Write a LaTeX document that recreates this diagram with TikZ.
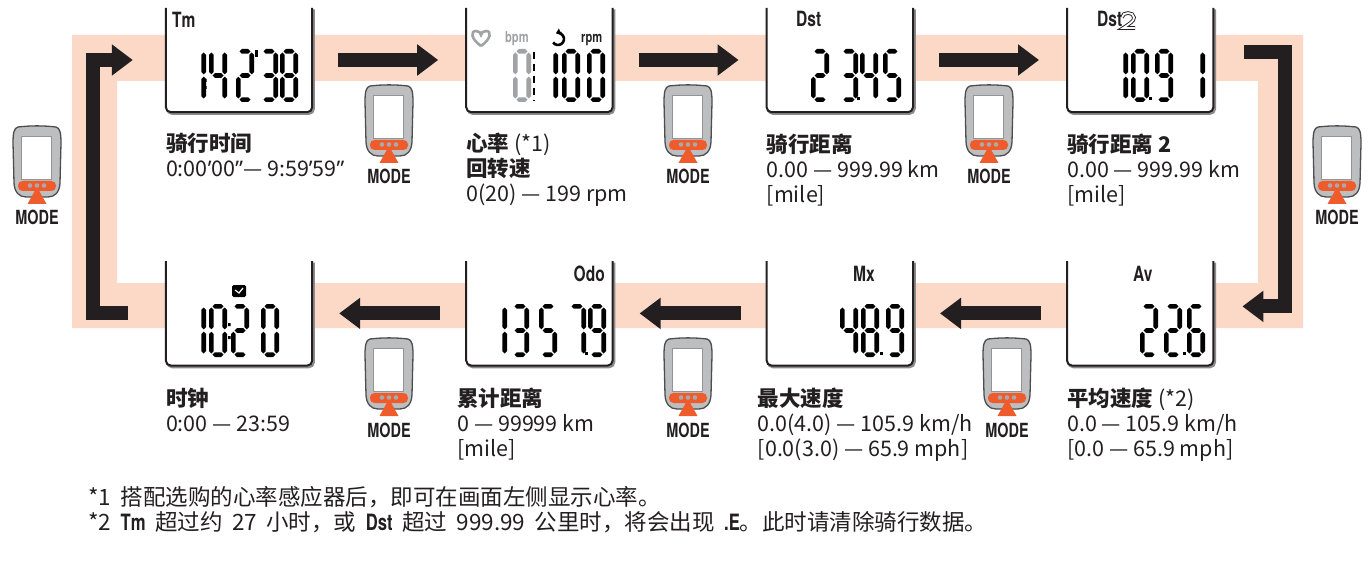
\documentclass[tikz,border=0pt]{standalone}
\usepackage{fontspec}
\setmainfont{Noto Sans CJK SC}
\newfontfamily\lcdsans{TeX Gyre Heros}
\newfontfamily\latinsans{Noto Sans}
\usetikzlibrary{positioning}
\usetikzlibrary{arrows.meta}

\definecolor{bandpeach}{HTML}{FCD9C6}
\definecolor{inkblack}{HTML}{231F20}
\definecolor{keyorange}{HTML}{EF5B2B}
\definecolor{keygrey}{HTML}{BCBEC0}
\definecolor{keyedge}{HTML}{4D4D4F}
\definecolor{dotgrey}{HTML}{A7A9AC}
\definecolor{lcdgrey}{HTML}{A0A2A5}

% condensed bold labels (Tm, Dst, MODE ...)
\newcommand\lcdlabel[2][20]{{\lcdsans\bfseries\fontsize{#1}{#1}\selectfont\scalebox{0.74}[1]{#2}}}
\newcommand\modetitle[1]{{\bfseries #1}}
\newcommand\minmark{{\latinsans ’}}
\newcommand\secmark{{\latinsans ”}}
\newcommand\fnsp{\hspace{0.42em}}

% seven segment digits, 18 x 53
\newcommand\segw{2.3}
\newcommand\seggap{1.2}
\newcommand\hseg[3]{\fill ({#1+\seggap},#3) -- ({#1+\seggap+\segw},{#3-\segw}) -- ({#2-\seggap-\segw},{#3-\segw}) -- ({#2-\seggap},#3) -- ({#2-\seggap-\segw},{#3+\segw}) -- ({#1+\seggap+\segw},{#3+\segw}) -- cycle;}
\newcommand\vseg[3]{\fill (#1,{#2+\seggap}) -- ({#1+\segw},{#2+\seggap+\segw}) -- ({#1+\segw},{#3-\seggap-\segw}) -- (#1,{#3-\seggap}) -- ({#1-\segw},{#3-\seggap-\segw}) -- ({#1-\segw},{#2+\seggap+\segw}) -- cycle;}
\newcommand\lcdsega{\hseg{2.3}{15.7}{2.3}}
\newcommand\lcdsegb{\vseg{15.7}{2.3}{26.5}}
\newcommand\lcdsegc{\vseg{15.7}{26.5}{50.7}}
\newcommand\lcdsegd{\hseg{2.3}{15.7}{50.7}}
\newcommand\lcdsege{\vseg{2.3}{26.5}{50.7}}
\newcommand\lcdsegf{\vseg{2.3}{2.3}{26.5}}
\newcommand\lcdsegg{\hseg{2.3}{15.7}{26.5}}
\newcommand\lcddigit[1]{%
  \ifcase#1\relax
    \lcdsega\lcdsegb\lcdsegc\lcdsegd\lcdsege\lcdsegf
  \or \lcdsegb\lcdsegc
  \or \lcdsega\lcdsegb\lcdsegg\lcdsege\lcdsegd
  \or \lcdsega\lcdsegb\lcdsegg\lcdsegc\lcdsegd
  \or \lcdsegf\lcdsegg\lcdsegb\lcdsegc
  \or \lcdsega\lcdsegf\lcdsegg\lcdsegc\lcdsegd
  \or \lcdsega\lcdsegf\lcdsegg\lcdsege\lcdsegc\lcdsegd
  \or \lcdsega\lcdsegb\lcdsegc
  \or \lcdsega\lcdsegb\lcdsegc\lcdsegd\lcdsege\lcdsegf\lcdsegg
  \or \lcdsega\lcdsegb\lcdsegc\lcdsegd\lcdsegf\lcdsegg
  \fi}

\tikzset{
  lcd/.pic={\lcddigit{#1}},
  modekey/.pic={
    \filldraw[keybody] (-19,0) .. controls (-6,-1.5) and (6,-1.5) .. (19,0)
      .. controls (23,1) and (24,6) .. (24,16) -- (23,56)
      .. controls (22.5,65) and (18,70) .. (11,70) -- (-11,70)
      .. controls (-18,70) and (-22.5,65) .. (-23,56) -- (-24,16)
      .. controls (-24,6) and (-23,1) .. (-19,0) -- cycle;
    \filldraw[fill=white, draw=keyedge!60, line width=0.6pt] (-15.5,9) rectangle (14.5,52);
    \fill[keyorange, rounded corners=4.5pt] (-19,54) rectangle (19,64);
    \fill[keyorange] (0,60) -- (9.5,77) -- (-9.5,77) -- cycle;
    \foreach \d in {-7,0,7} \fill[dotgrey] (\d,58.5) circle[radius=2.3pt];
    \node[modetext] (-txt) at (0,98) {\lcdlabel[19.5]{MODE}};
  }
}

\begin{document}
\begin{tikzpicture}[x=1pt, y=-1pt,
    screen/.style={minimum width=146pt, minimum height=104pt, inner sep=0pt},
    lcdframe/.style={draw=inkblack, fill=white, line width=2pt, rounded corners=5pt},
    lcdshadow/.style={draw=black!45, line width=2.5pt, rounded corners=5pt},
    flow/.style={draw=inkblack, line width=14pt, line join=miter, -{Triangle[length=21pt,width=30pt]}},
    keybody/.style={fill=keygrey, draw=keyedge, line width=1.3pt},
    modetext/.style={anchor=base, inner sep=0pt, text=inkblack},
    info/.style={align=left, inner sep=0pt, text=inkblack, font=\fontsize{21.5}{25}\selectfont},
    note/.style={inner sep=0pt, text=inkblack, font=\fontsize{22.5}{25}\selectfont},
    tag/.style={inner sep=0pt, text=inkblack}
    ]
    \useasboundingbox (0,0) rectangle (1370,564);

    % loop band
    \fill[bandpeach, even odd rule] (72,35) rectangle (1303,328) (117,81) rectangle (1258,283);

    \node[screen] (tm) at (239,60) {};
    \node[screen, right=154pt of tm] (hr) {};
    \node[screen, right=154pt of hr] (dst) {};
    \node[screen, right=154pt of dst] (dsttwo) {};
    \node[screen, below=149pt of tm] (clk) {};
    \node[screen, right=154pt of clk] (odo) {};
    \node[screen, right=154pt of odo] (mx) {};
    \node[screen, right=154pt of mx] (av) {};

    \foreach \s in {tm,hr,dst,dsttwo,clk,odo,mx,av}{
      \draw[lcdshadow] ([shift={(1.5pt,-1.5pt)}]\s.north west) -- ([shift={(1.5pt,-1.5pt)}]\s.south west)
        -- ([shift={(1.5pt,-1.5pt)}]\s.south east) -- ([shift={(1.5pt,-1.5pt)}]\s.north east);
      \filldraw[lcdframe] (\s.north west) -- (\s.south west) -- (\s.south east) -- (\s.north east);
    }

    % arrows
    \draw[flow] ([xshift=26pt]tm.east) -- ([xshift=-28pt]hr.west);
    \draw[flow] ([xshift=26pt]hr.east) -- ([xshift=-28pt]dst.west);
    \draw[flow] ([xshift=26pt]dst.east) -- ([xshift=-28pt]dsttwo.west);
    \draw[flow] ([xshift=-26pt]av.west) -- ([xshift=27pt]mx.east);
    \draw[flow] ([xshift=-26pt]mx.west) -- ([xshift=27pt]odo.east);
    \draw[flow] ([xshift=-26pt]odo.west) -- ([xshift=27pt]clk.east);
    \draw[flow] ([xshift=-38pt]clk.west) -- ++(-35,0) |- ([xshift=-33pt]tm.west);
    \draw[flow] ([xshift=31pt,yshift=8pt]dsttwo.east) -- ++(41,0) |- ([xshift=29pt,yshift=7pt]av.east);

    % Tm
    \node[tag, anchor=base west] (tmtag) at (172,28) {\lcdlabel[21]{Tm}};
    \pic at (188,49) {lcd=1};
    \fill (204,79) rectangle ++(2.5,3) (204,86) rectangle ++(2.5,3);
    \pic at (209,49) {lcd=4};
    \pic at (236,49) {lcd=2};
    \fill (255,50) rectangle ++(2.5,7);
    \pic at (260,49) {lcd=3};
    \pic at (280,49) {lcd=8};

    % heart rate / cadence
    \draw[lcdgrey, line width=2.6pt] (481,46) .. controls (471,39) and (470,31) .. (476,31)
      .. controls (479,31) and (481,33) .. (481,35) .. controls (481,33) and (483,31) .. (486,31)
      .. controls (492,31) and (491,39) .. (481,46);
    \node[tag, anchor=base west, text=lcdgrey] (bpmtag) at (505,43) {\lcdlabel[15]{bpm}};
    \draw[line width=2.6pt, -{Triangle[length=4.5pt,width=7pt]}] (558,39) ++(145:6) arc[start angle=145, end angle=-110, radius=6];
    \node[tag, anchor=base west] (rpmtag) at (581,43) {\lcdlabel[15]{rpm}};
    \pic[fill=lcdgrey] at (513,49) {lcd=0};
    \draw[line width=2.5pt, dash pattern=on 7pt off 5pt] (534,52) -- (534,101);
    \pic at (540,49) {lcd=1};
    \pic at (562,49) {lcd=0};
    \pic at (587,49) {lcd=0};

    % Dst
    \node[tag, anchor=base west] (dsttag) at (796,27) {\lcdlabel[21]{Dst}};
    \pic at (811,49) {lcd=2};
    \pic at (840,49) {lcd=3};
    \fill (857,97) rectangle ++(2.5,3);
    \pic at (860,49) {lcd=4};
    \pic at (883,49) {lcd=5};

    % Dst2
    \node[tag, anchor=base west] (dsttwotag) at (1097,27) {\lcdlabel[21]{Dst}};
    \draw[inkblack, line width=0.9pt, double=white, double distance=1.8pt] (1122,17.5) .. controls (1122,11.5) and (1134,11.5) .. (1134,17.5)
      .. controls (1134,21) and (1130,23.5) .. (1123,28) -- (1135,28);
    \pic at (1110,49) {lcd=1};
    \pic at (1131,49) {lcd=0};
    \fill (1149,97) rectangle ++(2.5,3);
    \pic at (1155,49) {lcd=9};
    \pic at (1187,49) {lcd=1};

    % clock
    \fill[rounded corners=1.5pt] (232,285) rectangle (246,297);
    \draw[white, line width=1.2pt] (235,290) -- (239,293) -- (243,288);
    \pic at (188,304) {lcd=1};
    \pic at (209,304) {lcd=0};
    \fill (228,323) rectangle ++(2.5,3) (228,336) rectangle ++(2.5,3);
    \pic at (231,304) {lcd=2};
    \pic at (261,304) {lcd=0};

    % Odo
    \node[tag, anchor=base east] (odotag) at (605,281) {\lcdlabel[21]{Odo}};
    \pic at (489,304) {lcd=1};
    \pic at (511,304) {lcd=3};
    \pic at (539,304) {lcd=5};
    \pic at (568,304) {lcd=7};
    \fill (585,352) rectangle ++(2.5,3);
    \pic at (588,304) {lcd=9};

    % Mx
    \node[tag, anchor=base west] (mxtag) at (853,281) {\lcdlabel[21]{Mx}};
    \pic at (840,304) {lcd=4};
    \pic at (861,304) {lcd=8};
    \fill (880,352) rectangle ++(2.5,3);
    \pic at (886,304) {lcd=9};

    % Av
    \node[tag, anchor=base west] (avtag) at (1133,281) {\lcdlabel[21]{Av}};
    \pic at (1140,304) {lcd=2};
    \pic at (1164,304) {lcd=2};
    \fill (1183,352) rectangle ++(2.5,3);
    \pic at (1187,304) {lcd=6};

    % MODE keys
    \pic (keya) at (389,86) {modekey};
    \pic (keyb) at (688,86) {modekey};
    \pic (keyc) at (989,86) {modekey};
    \pic (keyd) at (1337,127) {modekey};
    \pic (keye) at (1007,339) {modekey};
    \pic (keyf) at (688,339) {modekey};
    \pic (keyg) at (389,339) {modekey};
    \pic (keyh) at (37,127) {modekey};

    % captions
    \node[info, below right=21pt and 0pt of tm.south west] (tmtxt) {\modetitle{骑行时间}\\0:00\minmark00\secmark— 9:59\minmark59\secmark};
    \node[info, below right=21pt and 0pt of hr.south west] (hrtxt) {\modetitle{心率} (*1)\\\modetitle{回转速}\\0(20) — 199 rpm};
    \node[info, below right=21pt and 0pt of dst.south west] (dsttxt) {\modetitle{骑行距离}\\0.00 — 999.99 km\\{}[mile]};
    \node[info, below right=21pt and 0pt of dsttwo.south west] (dsttwotxt) {\modetitle{骑行距离 2}\\0.00 — 999.99 km\\{}[mile]};
    \node[info, below right=22pt and 0pt of clk.south west] (clktxt) {\modetitle{时钟}\\0:00 — 23:59};
    \node[info, below right=22pt and -9pt of odo.south west] (odotxt) {\modetitle{累计距离}\\0 — 99999 km\\{}[mile]};
    \node[info, below right=22pt and -9pt of mx.south west] (mxtxt) {\modetitle{最大速度}\\0.0(4.0) — 105.9 km/h\\{}[0.0(3.0) — 65.9 mph]};
    \node[info, below right=22pt and 0pt of av.south west] (avtxt) {\modetitle{平均速度} (*2)\\0.0 — 105.9 km/h\\{}[0.0 — 65.9 mph]};

    % notes
    \node[note, anchor=base west] (noteone) at (88,505) {*1\fnsp 搭配选购的心率感应器后，即可在画面左侧显示心率。};
    \node[note, anchor=base west] (notetwo) at (88,530) {*2\fnsp\lcdlabel[22.5]{Tm}\fnsp 超过约\fnsp 27\fnsp 小时，或\fnsp\lcdlabel[22.5]{Dst}\fnsp 超过\fnsp 999.99\fnsp 公里时，将会出现\fnsp\lcdlabel[22.5]{.E}。此时请清除骑行数据。};
  \end{tikzpicture}
\end{document}
